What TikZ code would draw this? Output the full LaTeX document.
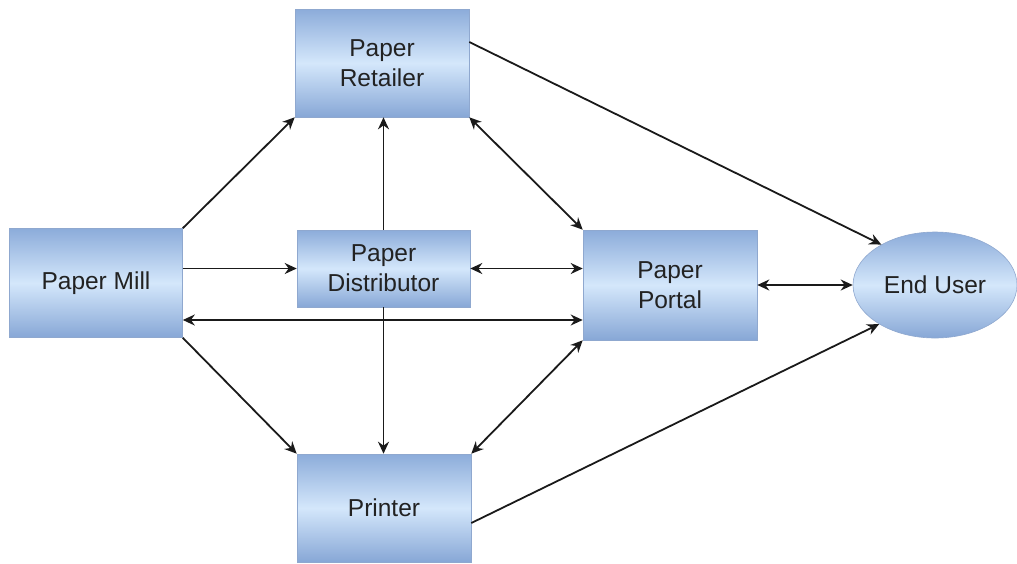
\documentclass[tikz,border=0pt]{standalone}
\usepackage{fontspec}
\setmainfont{Liberation Sans}
\usetikzlibrary{shapes.geometric,arrows.meta,calc}
\definecolor{boxedge}{HTML}{8FA8CF}
\definecolor{boxtop}{HTML}{8CACDA}
\definecolor{boxmid}{HTML}{D4E7FB}
\definecolor{boxbot}{HTML}{87A7D6}
\definecolor{txt}{HTML}{222222}
\definecolor{arr}{HTML}{1A1A1A}
\tikzset{
  box/.style={rectangle, draw=boxedge, line width=0.6pt, top color=boxtop, bottom color=boxbot, middle color=boxmid,
    inner sep=0pt, align=center, font=\fontsize{24.5}{30}\selectfont, text=txt},
  userell/.style={ellipse, draw=boxedge, line width=0.6pt, top color=boxtop, bottom color=boxbot, middle color=boxmid,
    inner sep=0pt, align=center, font=\fontsize{24.5}{30}\selectfont, text=txt},
  conn/.style={draw=arr, line width=1.8pt, -{Stealth[length=12pt,width=11pt]}},
  dconn/.style={draw=arr, line width=1.8pt, {Stealth[length=12pt,width=11pt]}-{Stealth[length=12pt,width=11pt]}}
}
\begin{document}
\begin{tikzpicture}[x=1pt,y=-1pt]
\useasboundingbox (0,0) rectangle (1017,563);
\node[box, minimum width=174pt, minimum height=108pt] (ret) at (382,63) {Paper\\Retailer};
\node[box, minimum width=173pt, minimum height=109pt] (mill) at (96,283) {Paper Mill};
\node[box, minimum width=173pt, minimum height=77pt] (dist) at (383.5,268.5) {Paper\\Distributor};
\node[box, minimum width=174pt, minimum height=110pt] (portal) at (670,285) {Paper\\Portal};
\node[box, minimum width=174pt, minimum height=108pt] (printer) at (384,508) {Printer};
\node[userell, minimum width=164pt, minimum height=106pt] (user) at (935,285) {End User};

\draw[conn] (mill.north east) -- (ret.south west);
\draw[conn] (mill.east |- dist.west) -- (dist.west);
\draw[dconn] ([yshift=-37pt]mill.east) -- ([yshift=-37pt]mill.east -| portal.west);
\draw[conn] (mill.south east) -- (printer.north west);
\draw[conn] (dist.north) -- (dist.north |- ret.south);
\draw[conn] (dist.south) -- (dist.south |- printer.north);
\draw[dconn] (dist.east) -- (dist.east -| portal.west);
\draw[dconn] (ret.south east) -- (portal.north west);
\draw[dconn] (printer.north east) -- (portal.south west);
\draw[conn] ([yshift=21pt]ret.east) -- (user.143);
\draw[conn] ([yshift=-15pt]printer.east) -- (user.215);
\draw[dconn] (portal.east) -- (user.west);
\end{tikzpicture}
\end{document}
